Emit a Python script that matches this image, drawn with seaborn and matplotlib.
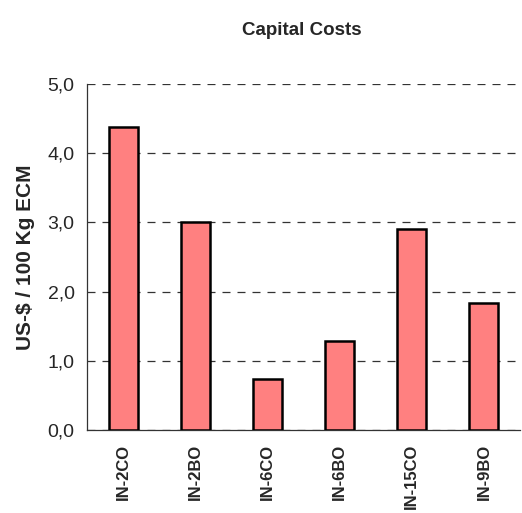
import matplotlib
matplotlib.use("Agg")
import matplotlib.pyplot as plt
import pandas as pd
import seaborn as sns
from matplotlib.ticker import FuncFormatter, FixedLocator

categories = ["IN-2CO", "IN-2BO", "IN-6CO", "IN-6BO", "IN-15CO", "IN-9BO"]
capital_costs = [4.38, 3.01, 0.74, 1.29, 2.91, 1.83]
y_ticks = [0, 1, 2, 3, 4, 5]

sns.set_style("white")
plt.rcParams["font.family"] = ["Liberation Sans", "DejaVu Sans"]

df = pd.DataFrame({"farm": categories, "cost": capital_costs})

fig = plt.figure(figsize=(5.22, 5.13), dpi=100)
ax = fig.add_axes([0.1667, 0.1618, 0.8295, 0.6745])

sns.barplot(data=df, x="farm", y="cost", color="#FF8080", saturation=1,
            width=0.4, edgecolor="black", linewidth=1.8, ax=ax, zorder=3)

ax.set_ylim(0, 5)
ax.set_xlim(-0.5, len(categories) - 0.5)
ax.set_yticks(y_ticks)
ax.yaxis.set_major_formatter(FuncFormatter(lambda v, p: f"{v:.1f}".replace(".", ",")))
ax.yaxis.grid(True, color="#333333", linestyle=(0, (6.4, 5.6)), linewidth=0.9, zorder=0)
ax.set_axisbelow(True)

ax.xaxis.set_minor_locator(FixedLocator([i - 0.5 for i in range(len(categories) + 1)]))
ax.tick_params(axis="x", which="major", length=0, pad=10)
ax.tick_params(axis="x", which="minor", length=5, width=0.9, color="#333333", direction="out")
ax.tick_params(axis="y", length=5, width=0.9, color="#333333", direction="out",
               labelsize=14, pad=4)
plt.setp(ax.get_xticklabels(), rotation=90, fontweight="bold", fontsize=12)

for side in ["top", "right"]:
    ax.spines[side].set_visible(False)
for side in ["left", "bottom"]:
    ax.spines[side].set_color("#333333")
    ax.spines[side].set_linewidth(0.9)

ax.set_xlabel("")
ax.set_ylabel("US-$ / 100 Kg ECM", fontweight="bold", fontsize=15, labelpad=9)
fig.text(0.579, 0.941, "Capital Costs", ha="center", va="center",
         fontweight="bold", fontsize=13.5)

fig.savefig("out.png", dpi=100)
